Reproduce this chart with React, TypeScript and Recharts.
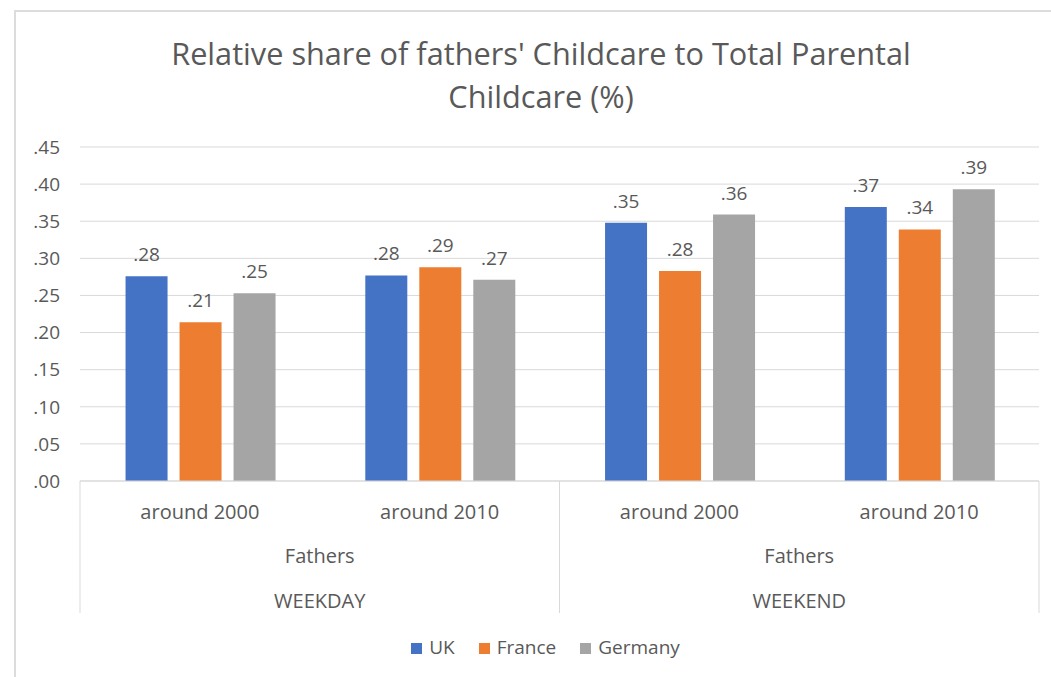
import React from 'react';
import { BarChart, Bar, XAxis, YAxis, CartesianGrid, Legend, LabelList } from 'recharts';

// categories (two-level axis: period / parent / day type)
const periods = ['around 2000', 'around 2010', 'around 2000', 'around 2010'];
const days = ['WEEKDAY', 'WEEKDAY', 'WEEKEND', 'WEEKEND'];
const parentLabel = 'Fathers';

// relative share per country
const ukValues = [0.276, 0.277, 0.348, 0.369];
const franceValues = [0.214, 0.288, 0.283, 0.339];
const germanyValues = [0.253, 0.271, 0.359, 0.393];

const seriesOrder = ['UK', 'France', 'Germany'];
const yTicks = [0, 0.05, 0.1, 0.15, 0.2, 0.25, 0.3, 0.35, 0.4, 0.45];

const data = periods.map((period, i) => ({
  period,
  day: days[i],
  UK: ukValues[i],
  France: franceValues[i],
  Germany: germanyValues[i],
}));

const FONT = '"Open Sans", sans-serif';
const TEXT = '#595959';
const LINE = '#d9d9d9';
const MAIN_AXIS_H = 50;
const GROUP_AXIS_H = 84;

const fmt = (v: number) => v.toFixed(2).replace(/^0/, '');

const PeriodTick = (props: any) => {
  const { x, y, payload } = props;
  return (
    <text x={x} y={y + 30} textAnchor="middle" fill={TEXT} fontSize={20} fontFamily={FONT}>
      {payload.value}
    </text>
  );
};

// second level: parent label, day type, and the separator lines of the box
const GroupTick = (props: any) => {
  const { x, y, payload, index } = props;
  const half = payload.offset || 240;
  const top = y - 8 - MAIN_AXIS_H;
  const bottom = top + 132;
  return (
    <g>
      {index === 0 && <line x1={x - half} x2={x - half} y1={top} y2={bottom} stroke={LINE} />}
      <line x1={x + half} x2={x + half} y1={top} y2={bottom} stroke={LINE} />
      <text x={x} y={y + 24} textAnchor="middle" fill={TEXT} fontSize={20} fontFamily={FONT}>
        {parentLabel}
      </text>
      <text x={x} y={y + 69} textAnchor="middle" fill={TEXT} fontSize={20} fontFamily={FONT}>
        {payload.value}
      </text>
    </g>
  );
};

export default function App() {
  return (
    <div style={{ position: 'absolute', left: 0, top: 0, width: 1051, height: 677, background: '#fff', overflow: 'hidden' }}>
      <div
        style={{
          position: 'absolute',
          left: 14,
          top: 10,
          width: 1100,
          height: 700,
          borderLeft: '2px solid #dcdcdc',
          borderTop: '2px solid #dcdcdc',
        }}
      />
      <div
        style={{
          position: 'absolute',
          left: 91,
          top: 32,
          width: 900,
          textAlign: 'center',
          fontFamily: FONT,
          fontSize: 30.7,
          lineHeight: '43px',
          color: TEXT,
        }}
      >
        Relative share of fathers' Childcare to Total Parental
        <br />
        Childcare (%)
      </div>
      <div style={{ position: 'absolute', left: 0, top: 0 }}>
        <BarChart
          width={1051}
          height={677}
          data={data}
          margin={{ top: 147, right: 12, left: 0, bottom: 36 }}
          barGap={12}
          barCategoryGap="19%"
        >
          <CartesianGrid vertical={false} stroke={LINE} />
          <XAxis
            xAxisId="a_period"
            dataKey="period"
            height={MAIN_AXIS_H}
            tickLine={false}
            axisLine={{ stroke: LINE }}
            tick={<PeriodTick />}
            interval={0}
          />
          <XAxis
            xAxisId="b_day"
            dataKey="day"
            allowDuplicatedCategory={false}
            height={GROUP_AXIS_H}
            tickLine={false}
            axisLine={false}
            tick={<GroupTick />}
            interval={0}
          />
          <YAxis
            width={80}
            domain={[0, 0.45]}
            ticks={yTicks}
            tickFormatter={fmt}
            tickLine={false}
            axisLine={false}
            tickMargin={14}
            tick={{ fill: TEXT, fontSize: 19, fontFamily: FONT }}
          />
          <Legend
            verticalAlign="bottom"
            iconType="square"
            iconSize={11}
            itemSorter={(item: any) => seriesOrder.indexOf(item.value)}
            wrapperStyle={{ top: 634, left: 38, fontFamily: FONT, fontSize: 19 }}
            formatter={(value: string) => (
              <span style={{ color: TEXT, paddingLeft: 3, paddingRight: 14 }}>{value}</span>
            )}
          />
          <Bar xAxisId="a_period" dataKey="UK" fill="#4472C4" isAnimationActive={false}>
            <LabelList dataKey="UK" position="top" offset={15} formatter={fmt} fill={TEXT} fontSize={19} fontFamily={FONT} />
          </Bar>
          <Bar xAxisId="a_period" dataKey="France" fill="#ED7D31" isAnimationActive={false}>
            <LabelList dataKey="France" position="top" offset={15} formatter={fmt} fill={TEXT} fontSize={19} fontFamily={FONT} />
          </Bar>
          <Bar xAxisId="a_period" dataKey="Germany" fill="#A5A5A5" isAnimationActive={false}>
            <LabelList dataKey="Germany" position="top" offset={15} formatter={fmt} fill={TEXT} fontSize={19} fontFamily={FONT} />
          </Bar>
        </BarChart>
      </div>
    </div>
  );
}
